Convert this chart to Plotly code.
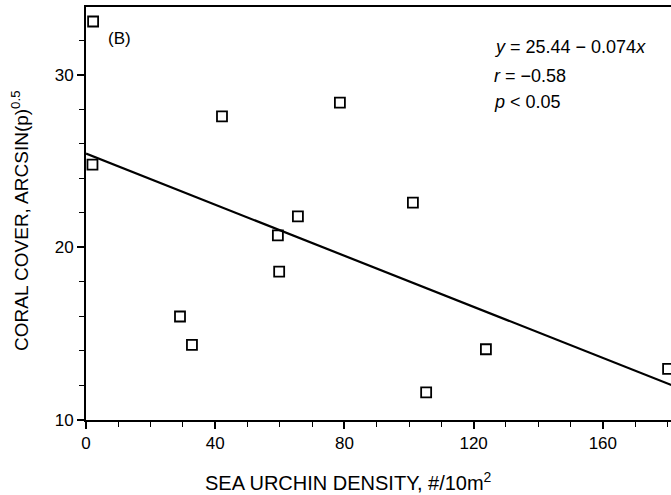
import plotly.graph_objects as go

# Data
urchin_density = [2.2, 2.0, 42.1, 78.6, 65.6, 59.4, 59.8, 29.1, 32.8, 101.2, 123.8, 105.3, 180.2]
coral_cover = [33.1, 24.8, 27.6, 28.4, 21.8, 20.7, 18.6, 16.0, 14.35, 22.6, 14.1, 11.6, 12.96]

intercept = 25.44
slope = -0.074
fit_x = [0, 185]
fit_y = [intercept + slope * v for v in fit_x]

x_ticks = [0, 40, 80, 120, 160]
y_ticks = [10, 20, 30]

FONT = "Liberation Sans, Arial, Helvetica, sans-serif"

fig = go.Figure()
fig.add_trace(go.Scatter(x=fit_x, y=fit_y, mode="lines",
                         line=dict(color="black", width=2.2), showlegend=False))
fig.add_trace(go.Scatter(x=urchin_density, y=coral_cover, mode="markers",
                         marker=dict(symbol="square-open", size=10, color="black",
                                     line=dict(width=1.8, color="black")),
                         showlegend=False))

fig.update_layout(
    width=671, height=495,
    margin=dict(l=86, r=0, t=7, b=75),
    paper_bgcolor="white", plot_bgcolor="white",
    font=dict(family=FONT, color="black", size=16),
    xaxis=dict(range=[0, 181.1], tickvals=x_ticks, ticks="outside", ticklen=7,
               tickwidth=1.5, tickcolor="black",
               minor=dict(dtick=10, tick0=0, ticks="outside", ticklen=5,
                          tickwidth=1.2, tickcolor="black"),
               showline=True, linecolor="black", linewidth=2, mirror=True,
               showgrid=False, zeroline=False,
               tickfont=dict(size=17)),
    yaxis=dict(range=[10, 33.94], tickvals=y_ticks, ticks="outside", ticklen=7,
               tickwidth=1.5, tickcolor="black",
               minor=dict(dtick=2, tick0=10, ticks="outside", ticklen=5,
                          tickwidth=1.2, tickcolor="black"),
               showline=True, linecolor="black", linewidth=2,
               showgrid=False, zeroline=False,
               tickfont=dict(size=17)),
)

# Axis titles
fig.add_annotation(text="SEA URCHIN DENSITY, #/10m<sup>2</sup>", xref="paper", yref="paper",
                   x=0.448, y=-0.148, xanchor="center", yanchor="middle", showarrow=False,
                   font=dict(size=20, family=FONT, color="black"))
fig.add_annotation(text="CORAL COVER, ARCSIN(p)<sup>0.5</sup>", xref="paper", yref="paper",
                   x=-0.113, y=0.484, xanchor="center", yanchor="middle", showarrow=False,
                   textangle=-90, font=dict(size=19, family=FONT, color="black"))

ann = [
    ("(B)", 6.2, 32.1, 17),
    ("<i>y</i> = 25.44 − 0.074<i>x</i>", 125.7, 31.6, 18),
    ("<i>r</i> = −0.58", 125.7, 29.94, 18),
    ("<i>p</i> < 0.05", 125.7, 28.43, 18),
]
for text, ax, ay, sz in ann:
    fig.add_annotation(x=ax, y=ay, text=text, showarrow=False, xanchor="left",
                       yanchor="middle", font=dict(size=sz, family=FONT, color="black"))

fig.write_html("out.html", config={"displayModeBar": False},
               post_script="document.body.style.margin='0';")
